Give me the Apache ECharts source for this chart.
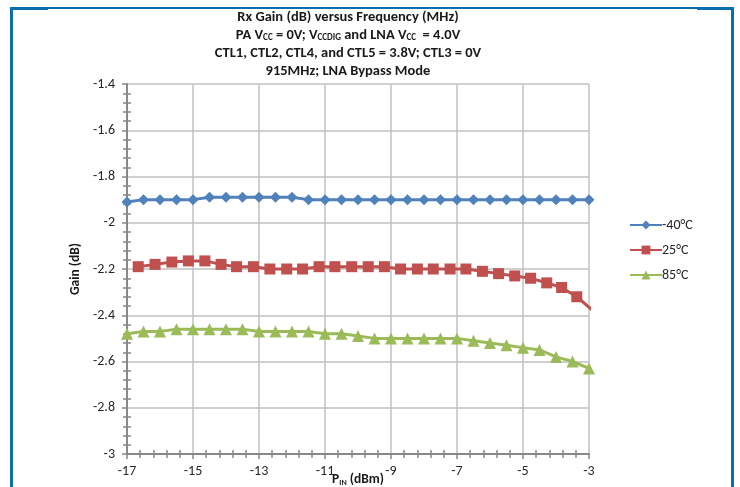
<!DOCTYPE html>
<html><head><meta charset="utf-8">
<script src="https://cdn.jsdelivr.net/npm/echarts@6/dist/echarts.min.js"></script>
<style>html,body{margin:0;padding:0;background:#fff}#c{width:740px;height:487px}</style>
</head><body><div id="c"></div>
<script>
var FONT = "Carlito, 'Liberation Sans Narrow', 'Open Sans', sans-serif";
var xTicks = [-17, -15, -13, -11, -9, -7, -5, -3];
var yTicks = [-1.4, -1.6, -1.8, -2, -2.2, -2.4, -2.6, -2.8, -3];
var seriesNames = ['-40°C', '25°C', '85°C'];
var xCold = [-17,-16.5,-16,-15.5,-15,-14.5,-14,-13.5,-13,-12.5,-12,-11.5,-11,-10.5,-10,-9.5,-9,-8.5,-8,-7.5,-7,-6.5,-6,-5.5,-5,-4.5,-4,-3.5,-3];
var gainCold = [-1.91,-1.90,-1.90,-1.90,-1.90,-1.89,-1.89,-1.89,-1.89,-1.89,-1.89,-1.90,-1.90,-1.90,-1.90,-1.90,-1.90,-1.90,-1.90,-1.90,-1.90,-1.90,-1.90,-1.90,-1.90,-1.90,-1.90,-1.90,-1.90];
var xRoom = [-16.66,-16.15,-15.64,-15.14,-14.64,-14.15,-13.68,-13.17,-12.67,-12.16,-11.68,-11.18,-10.70,-10.19,-9.69,-9.20,-8.71,-8.20,-7.72,-7.21,-6.73,-6.23,-5.74,-5.25,-4.77,-4.28,-3.83,-3.37,-2.88];
var gainRoom = [-2.19,-2.18,-2.17,-2.165,-2.165,-2.18,-2.19,-2.19,-2.20,-2.20,-2.20,-2.19,-2.19,-2.19,-2.19,-2.19,-2.20,-2.20,-2.20,-2.20,-2.20,-2.21,-2.22,-2.23,-2.24,-2.26,-2.28,-2.32,-2.38];
var xHot = [-17,-16.5,-16,-15.5,-15,-14.5,-14,-13.5,-13,-12.5,-12,-11.5,-11,-10.5,-10,-9.5,-9,-8.5,-8,-7.5,-7,-6.5,-6,-5.5,-5,-4.5,-4,-3.5,-3];
var gainHot = [-2.48,-2.47,-2.47,-2.46,-2.46,-2.46,-2.46,-2.46,-2.47,-2.47,-2.47,-2.47,-2.48,-2.48,-2.49,-2.50,-2.50,-2.50,-2.50,-2.50,-2.50,-2.51,-2.52,-2.53,-2.54,-2.55,-2.58,-2.60,-2.63];

function pairs(xs, ys){ return xs.map(function(x,i){return [x, ys[i]];}); }
var chart = echarts.init(document.getElementById('c'));
var b = {fontFamily: FONT, fontWeight: 'bold', fontSize: 14.5, color: '#1a1a1a', lineHeight: 18};
var s = {fontFamily: FONT, fontWeight: 'bold', fontSize: 9, color: '#1a1a1a', lineHeight: 18, padding: [6,0,0,0]};
var axisCommonX = {type: 'value', min: xTicks[0], max: xTicks[xTicks.length-1], interval: 2};
var axisCommonY = {type: 'value', min: yTicks[yTicks.length-1], max: yTicks[0], interval: 0.2};
var gray = '#888888';
chart.setOption({
  animation: false,
  title: {
    left: 348, top: 8, textAlign: 'center', padding: 0,
    text: '{b|Rx Gain (dB) versus Frequency (MHz)}\n{b|PA V}{s|CC}{b| = 0V; V}{s|CCDIG}{b| and LNA V}{s|CC}{b|  = 4.0V}\n{b|CTL1, CTL2, CTL4, and CTL5 = 3.8V; CTL3 = 0V}\n{b|915MHz; LNA Bypass Mode}',
    textStyle: {rich: {b: b, s: s}, lineHeight: 18}
  },
  grid: {left: 127, right: 151, top: 84, bottom: 33, outerBoundsMode: 'none', containLabel: false},
  legend: {
    orient: 'vertical', left: 624, top: 213, itemWidth: 32, itemHeight: 11, itemGap: 11,
    textStyle: {fontFamily: FONT, fontSize: 14, color: '#262626', padding: [0,0,0,-5]},
    data: seriesNames
  },
  xAxis: [
    Object.assign({}, axisCommonX, {
      position: 'bottom',
      name: '{b|P}{s|IN}{b| (dBm)}', nameLocation: 'middle', nameGap: 19, nameMoveOverlap: false,
      nameTextStyle: {rich: {
        b: Object.assign({}, b, {fontSize: 13.5, lineHeight: 14}),
        s: Object.assign({}, s, {fontSize: 8, lineHeight: 14, padding: [5,0,0,0]})}},
      axisLine: {lineStyle: {color: gray, width: 2}},
      axisTick: {length: 5, lineStyle: {color: gray, width: 1.5}},
      minorTick: {show: false},
      axisLabel: {margin: 10, fontFamily: FONT, fontSize: 14, color: '#262626'},
      splitLine: {lineStyle: {color: '#c0c0c0', width: 1.5}}
    }),
    Object.assign({}, axisCommonX, {
      position: 'bottom', offset: -4,
      axisLine: {show: false}, axisLabel: {show: false}, splitLine: {show: false},
      axisTick: {show: false},
      minorTick: {show: true, splitNumber: 5, length: 8, lineStyle: {color: gray, width: 1.5}}
    })
  ],
  yAxis: [
    Object.assign({}, axisCommonY, {
      position: 'left',
      name: 'Gain (dB)', nameLocation: 'middle', nameGap: 44, nameMoveOverlap: false,
      nameTextStyle: {fontFamily: FONT, fontWeight: 'bold', fontSize: 13.5, color: '#1a1a1a'},
      axisLine: {show: true, lineStyle: {color: gray, width: 2}},
      axisTick: {show: true, length: 5, lineStyle: {color: gray, width: 1.5}},
      minorTick: {show: false},
      axisLabel: {margin: 12, fontFamily: FONT, fontSize: 14, color: '#262626'},
      splitLine: {lineStyle: {color: '#c0c0c0', width: 1.5}}
    }),
    Object.assign({}, axisCommonY, {
      position: 'left', offset: -4,
      axisLine: {show: false}, axisLabel: {show: false}, splitLine: {show: false},
      axisTick: {show: false},
      minorTick: {show: true, splitNumber: 5, length: 8, lineStyle: {color: gray, width: 1.5}}
    })
  ],
  series: [
    {name: seriesNames[0], type: 'line', data: pairs(xCold, gainCold), symbol: 'diamond', symbolSize: 11,
     itemStyle: {color: '#4F81BD'}, lineStyle: {width: 3, color: '#4F81BD'}, clip: true},
    {name: seriesNames[1], type: 'line', data: pairs(xRoom, gainRoom), symbol: 'rect', symbolSize: 11,
     itemStyle: {color: '#C0504D'}, lineStyle: {width: 3, color: '#C0504D'}, clip: true},
    {name: seriesNames[2], type: 'line', data: pairs(xHot, gainHot), symbol: 'triangle', symbolSize: 12,
     itemStyle: {color: '#9BBB59'}, lineStyle: {width: 3, color: '#9BBB59'}, clip: true}
  ],
  graphic: [
    {type: 'rect', shape: {x: 10, y: 7, width: 3, height: 480}, style: {fill: '#0a6fae'}, silent: true},
    {type: 'rect', shape: {x: 731, y: 7, width: 3, height: 480}, style: {fill: '#0a6fae'}, silent: true},
    {type: 'rect', shape: {x: 10, y: 7, width: 724, height: 2}, style: {fill: '#0a6fae'}, silent: true},
    {type: 'rect', shape: {x: 10, y: 7, width: 38, height: 3}, style: {fill: '#0a6fae'}, silent: true},
    {type: 'rect', shape: {x: 697, y: 7, width: 37, height: 3}, style: {fill: '#0a6fae'}, silent: true}
  ]
});
</script></body></html>
